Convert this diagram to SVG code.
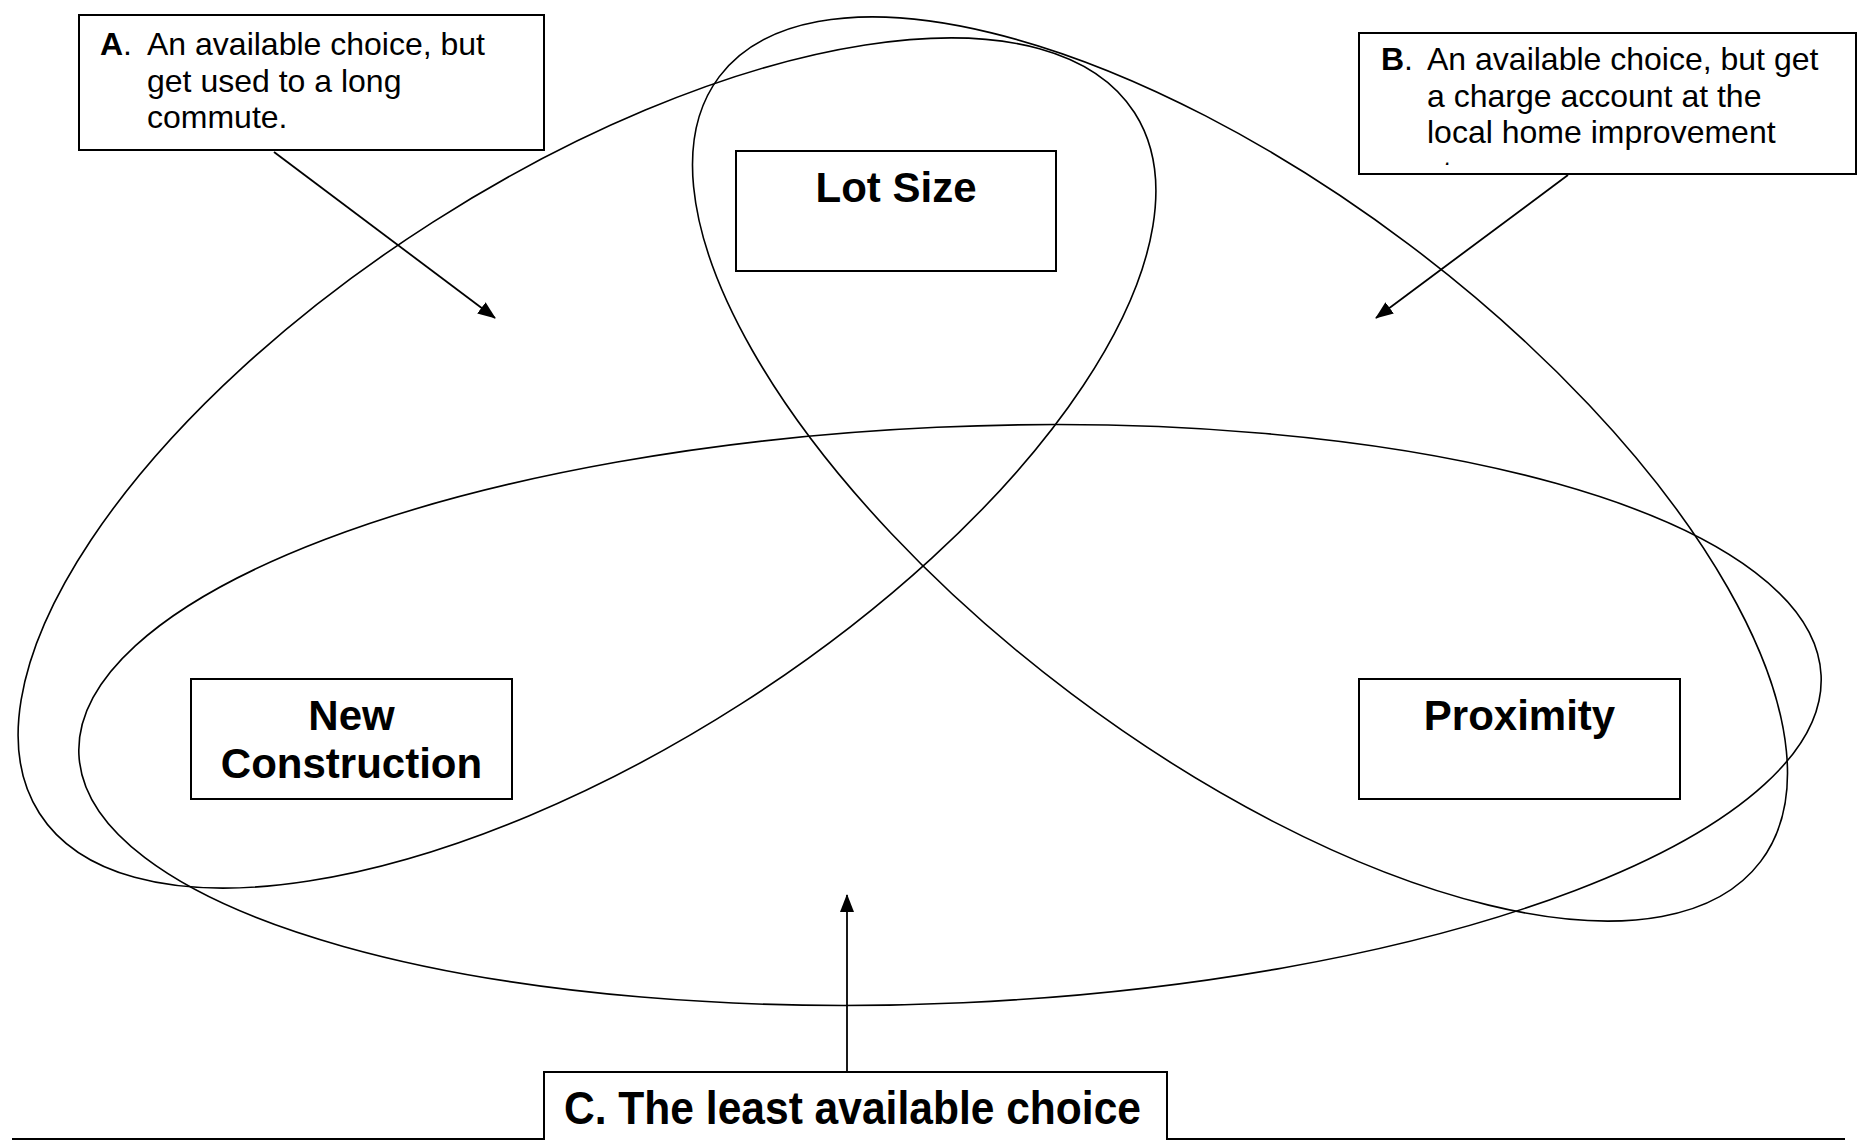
<svg xmlns="http://www.w3.org/2000/svg" width="1858" height="1140" viewBox="0 0 1858 1140">
<defs>
<style>
.ell{fill:none;stroke:#000;stroke-width:1.6}
.box{fill:#fff;stroke:#000;stroke-width:2}
.conn{fill:none;stroke:#000;stroke-width:1.8}
.t{font-family:"Liberation Sans",Arial,sans-serif;font-size:32px;fill:#000}
.b{font-family:"Liberation Sans",Arial,sans-serif;font-weight:bold;font-size:42px;fill:#000;text-anchor:middle}
.c{font-family:"Liberation Sans",Arial,sans-serif;font-weight:bold;font-size:46px;fill:#000}
</style>
<marker id="ah" markerUnits="userSpaceOnUse" markerWidth="18" markerHeight="14" refX="17" refY="7" orient="auto">
<path d="M0,0 L18,7 L0,14 z" fill="#000"/>
</marker>
<clipPath id="clipB"><rect x="1360" y="34" width="495" height="131"/></clipPath>
</defs>
<rect width="1858" height="1140" fill="#fff"/>
<g id="ellipses">
<ellipse class="ell" cx="587" cy="463" rx="650" ry="286" transform="rotate(-32.6 587 463)"/>
<ellipse class="ell" cx="1240" cy="469" rx="652" ry="281" transform="rotate(37 1240 469)"/>
<ellipse class="ell" cx="950" cy="715" rx="872" ry="288" transform="rotate(-2.6 950 715)"/>
</g>
<g id="connectors">
<line class="conn" x1="274" y1="152" x2="495" y2="318" marker-end="url(#ah)"/>
<line class="conn" x1="1568" y1="175" x2="1376" y2="318" marker-end="url(#ah)"/>
<line class="conn" x1="847" y1="1072" x2="847" y2="895" marker-end="url(#ah)"/>
</g>
<g id="nodeA">
<rect class="box" x="79" y="15" width="465" height="135"/>
<text class="t" x="100" y="55"><tspan font-weight="bold">A</tspan>.</text>
<text class="t" x="147" y="55">An available choice, but</text>
<text class="t" x="147" y="91.5">get used to a long</text>
<text class="t" x="147" y="128">commute.</text>
</g>
<g id="nodeB">
<rect class="box" x="1359" y="33" width="497" height="141"/>
<g clip-path="url(#clipB)">
<text class="t" x="1381" y="70"><tspan font-weight="bold">B</tspan>.</text>
<text class="t" x="1427" y="70">An available choice, but get</text>
<text class="t" x="1427" y="106.5">a charge account at the</text>
<text class="t" x="1427" y="143">local home improvement</text>
<text class="t" x="1427" y="183">store.</text>
</g>
</g>
<g id="nodeLot">
<rect class="box" x="736" y="151" width="320" height="120"/>
<text class="b" x="896" y="202">Lot Size</text>
</g>
<g id="nodeNew">
<rect class="box" x="191" y="679" width="321" height="120"/>
<text class="b" x="351.5" y="730">New</text>
<text class="b" x="351.5" y="778">Construction</text>
</g>
<g id="nodeProx">
<rect class="box" x="1359" y="679" width="321" height="120"/>
<text class="b" x="1519.5" y="730">Proximity</text>
</g>
<g id="nodeC">
<line x1="12" y1="1139" x2="1845" y2="1139" stroke="#000" stroke-width="2"/>
<path d="M544,1140 V1072 H1167 V1140" fill="#fff" stroke="#000" stroke-width="2"/>
<text class="c" x="564" y="1124" textLength="577" lengthAdjust="spacingAndGlyphs">C. The least available choice</text>
</g>
</svg>
